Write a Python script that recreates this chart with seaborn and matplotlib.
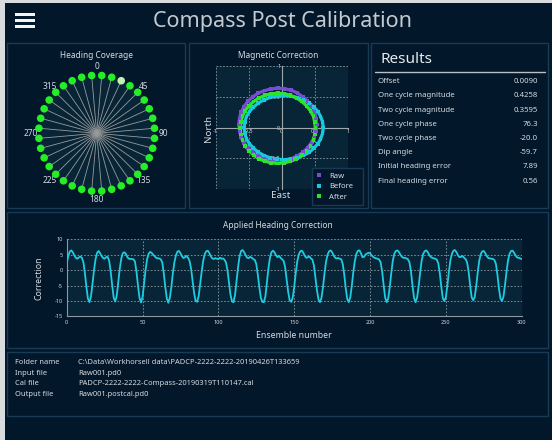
import numpy as np
import pandas as pd
import matplotlib
matplotlib.use("Agg")
import matplotlib.pyplot as plt
from matplotlib.patches import Rectangle
from matplotlib.lines import Line2D
import seaborn as sns

# ---------------- data ----------------
heading_angles = [5, 15, 25, 35, 45, 55, 65, 75, 85, 95, 105, 115, 125, 135, 145, 155, 165, 175,
                  185, 195, 205, 215, 225, 235, 245, 255, 265, 275, 285, 295, 305, 315, 325, 335, 345, 355]
heading_status = ["full", "full", "partial"] + ["full"] * 33
heading_tick_angles = [0, 45, 90, 135, 180, 225, 270, 315]

raw_x = [0.53, 0.52, 0.50, 0.45, 0.39, 0.32, 0.24, 0.14, 0.04, -0.06, -0.16, -0.26, -0.355, -0.44, -0.51, -0.57,
         -0.615, -0.64, -0.65, -0.64, -0.615, -0.57, -0.51, -0.44, -0.355, -0.26, -0.16, -0.06, 0.04, 0.14,
         0.235, 0.32, 0.39, 0.45, 0.495, 0.52]
raw_y = [0.05, 0.15, 0.25, 0.35, 0.43, 0.50, 0.56, 0.61, 0.63, 0.64, 0.63, 0.60, 0.56, 0.50, 0.43, 0.345,
         0.25, 0.15, 0.05, -0.05, -0.15, -0.245, -0.33, -0.40, -0.46, -0.505, -0.53, -0.54, -0.53, -0.505,
         -0.46, -0.40, -0.33, -0.245, -0.15, -0.05]
before_x = [0.63, 0.62, 0.59, 0.55, 0.49, 0.42, 0.33, 0.235, 0.135, 0.03, -0.075, -0.175, -0.27, -0.355, -0.43,
            -0.49, -0.535, -0.56, -0.57, -0.56, -0.535, -0.49, -0.43, -0.355, -0.27, -0.175, -0.075, 0.03,
            0.135, 0.235, 0.33, 0.42, 0.49, 0.55, 0.59, 0.62]
before_y = [0.0, 0.09, 0.18, 0.26, 0.33, 0.40, 0.45, 0.49, 0.51, 0.52, 0.51, 0.49, 0.45, 0.40, 0.33, 0.26,
            0.18, 0.09, 0.0, -0.09, -0.18, -0.26, -0.33, -0.40, -0.45, -0.49, -0.51, -0.52, -0.51, -0.49,
            -0.45, -0.40, -0.33, -0.26, -0.18, -0.09]
after_x = [0.51, 0.50, 0.48, 0.435, 0.375, 0.305, 0.225, 0.135, 0.04, -0.06, -0.16, -0.255, -0.345, -0.425,
           -0.495, -0.555, -0.595, -0.62, -0.63, -0.62, -0.595, -0.555, -0.495, -0.425, -0.345, -0.255, -0.16,
           -0.06, 0.04, 0.135, 0.225, 0.305, 0.375, 0.435, 0.48, 0.50]
after_y = [-0.01, 0.09, 0.185, 0.275, 0.355, 0.425, 0.48, 0.525, 0.55, 0.56, 0.55, 0.525, 0.48, 0.425, 0.355,
           0.275, 0.185, 0.09, -0.01, -0.11, -0.205, -0.295, -0.375, -0.445, -0.505, -0.545, -0.57, -0.58,
           -0.57, -0.545, -0.505, -0.445, -0.375, -0.295, -0.205, -0.11]
mag_ticks = [-1, -0.5, 0, 0.5, 1]

correction = [
    2.2, 4.5, 6.0, 6.4, 5.8, 4.8, 4.0, 3.7, 4.1, 4.4, 4.0, 2.6, -1.0, -5.5, -9.3, -10.4,
    -8.6, -4.5, 0.0, 3.5, 5.6, 6.2, 5.5, 4.6, 3.9, 3.7, 4.2, 4.3, 3.0, -0.5, -5.0, -9.0, -10.2,
    -8.3, -4.0, 0.5, 3.8, 5.5, 5.8, 5.3, 4.2, 3.7, 3.6, 3.6, 3.5, 2.8, -0.5, -5.0, -9.0, -10.5,
    -8.8, -4.5, 0.0, 3.5, 5.3, 5.9, 5.6, 5.0, 4.5, 4.0, 3.8, 3.8, 3.5, 2.5, -1.0, -5.5, -9.2, -10.6,
    -9.0, -5.5, -1.0, 2.5, 4.8, 6.0, 6.2, 5.5, 4.5, 3.9, 4.2, 4.6, 4.0, 3.0, 0.5, -3.5, -7.5, -10.0, -10.3,
    -8.5, -4.5, -0.5, 3.0, 5.2, 6.1, 6.3, 5.6, 4.5, 3.8, 3.6, 3.9, 3.7, 3.6, 4.0, 3.7, 3.8, 3.4, 2.5, 0.0,
    -4.0, -8.0, -10.2, -10.4,
    -8.0, -3.5, 1.0, 4.5, 6.2, 6.5, 5.8, 4.8, 4.0, 3.9, 4.3, 4.0, 3.6, 3.3, 2.0, -1.5, -5.5, -9.0, -10.3, -10.4,
    -8.5, -4.0, 0.5, 4.0, 5.8, 6.3, 5.8, 4.8, 4.2, 4.6, 4.0, 3.5, 3.0, 1.0, -3.0, -7.0, -9.8, -10.3,
    -9.0, -5.5, -1.0, 2.8, 5.0, 6.1, 6.3, 5.6, 4.6, 4.0, 4.2, 4.4, 3.8, 3.4, 1.5, -2.5, -6.5, -9.5, -10.4,
    -9.0, -5.5, -1.0, 2.8, 5.0, 6.1, 6.4, 5.8, 4.8, 4.0, 3.8, 3.9, 3.7, 3.5, 2.0, -1.5, -6.0, -9.4, -10.4,
    -8.8, -5.0, -0.5, 3.0, 5.3, 6.3, 6.4, 5.5, 4.2, 4.3, 5.0, 5.4, 5.6, 5.5, 4.8, 4.3, 4.0, 3.8, 3.7, 3.4,
    2.5, -0.5, -5.0, -9.0, -10.4,
    -9.2, -5.5, -1.0, 3.0, 5.3, 6.2, 6.4, 5.9, 5.0, 4.3, 4.0, 4.0, 3.8, 3.5, 2.5, -0.5, -5.0, -9.0, -10.4,
    -9.0, -5.5, -1.0, 3.0, 5.2, 6.1, 6.4, 5.9, 4.9, 4.3, 4.0, 3.8, 3.7, 3.4, 2.2, -1.0, -5.5, -9.2, -10.0,
    -8.8, -5.0, -0.5, 3.2, 5.3, 6.3, 6.5, 5.8, 4.8, 4.2, 4.3, 4.6, 4.0, 3.6, 2.5, -0.5, -5.0, -8.8, -9.8,
    -8.8, -5.2, -0.8, 3.0, 5.2, 6.1, 6.2, 5.5, 4.5, 3.9, 3.8, 3.7, 3.6, 3.3, 2.0, -1.5, -6.0, -9.3, -10.0,
    -8.6, -4.8, -0.5, 3.2, 5.3, 6.2, 6.3, 5.6, 4.7, 4.1, 4.0, 3.8, 3.6,
]
ensemble = list(range(len(correction)))
corr_xticks = [0, 50, 100, 150, 200, 250, 300]
corr_yticks = [-15, -10, -5, 0, 5, 10]

result_labels = ["Offset", "One cycle magnitude", "Two cycle magnitude", "One cycle phase",
                 "Two cycle phase", "Dip angle", "Initial heading error", "Final heading error"]
result_values = ["0.0090", "0.4258", "0.3595", "76.3", "-20.0", "-59.7", "7.89", "0.56"]

file_labels = ["Folder name", "Input file", "Cal file", "Output file"]
file_values = ["C:\\Data\\Workhorsell data\\PADCP-2222-2222-20190426T133659", "Raw001.pd0",
               "PADCP-2222-2222-Compass-20190319T110147.cal", "Raw001.postcal.pd0"]

# ---------------- style ----------------
BG = "#02172a"
PANEL_EDGE = "#173a55"
AX_BG = "#072536"
TXT = "#d5dbe0"
GRID = "#8d9aa3"

sns.set_theme(style="dark")
plt.rcParams["font.family"] = ["Noto Sans", "DejaVu Sans"]
plt.rcParams["axes.unicode_minus"] = False

W, H = 552, 440
fig = plt.figure(figsize=(W / 100, H / 100), dpi=100, facecolor=BG)


def fx(x):
    return x / W


def fy(y):
    return 1 - y / H


def rect_px(x0, y0, x1, y1):
    return [fx(x0), fy(y1), (x1 - x0) / W, (y1 - y0) / H]


def box(x0, y0, x1, y1, **kw):
    fig.patches.append(Rectangle((fx(x0), fy(y1)), (x1 - x0) / W, (y1 - y0) / H,
                                 transform=fig.transFigure, **kw))


def panel(x0, y0, x1, y1):
    box(x0, y0, x1, y1, facecolor="none", edgecolor=PANEL_EDGE, lw=1.0)


# window frame (light margin at left and top)
box(0, 0, 5, 440, facecolor="#d9dcdf", edgecolor="none")
box(0, 0, 552, 3, facecolor="#d9dcdf", edgecolor="none")

# header
fig.text(fx(282.5), fy(22), "Compass Post Calibration", ha="center", va="center",
         fontsize=15.5, color="#c3cad1")
for yb in [14.5, 20.5, 26.5]:
    box(15, yb - 1.2, 34.5, yb + 1.2, facecolor="#f2f4f6", edgecolor="none")

panel(7, 43, 185, 208)
panel(189, 43, 368, 208)
panel(371, 43, 548, 208)
panel(7, 212, 548, 348)
panel(7, 352, 548, 416)

# ---------------- heading coverage ----------------
axp = fig.add_axes(rect_px(38.7, 75.3, 154.7, 191.3), projection="polar")
axp.set_facecolor(AX_BG)
axp.set_theta_zero_location("N")
axp.set_theta_direction(-1)
hdf = pd.DataFrame({"theta": np.deg2rad(heading_angles), "r": 1.0, "status": heading_status})
axp.vlines(hdf["theta"], 0, hdf["r"], color="#9a9a9a", lw=0.6, zorder=1)
sns.scatterplot(data=hdf, x="theta", y="r", hue="status",
                palette={"full": "#26ee26", "partial": "#bdf3b0"}, s=30, edgecolor="none",
                legend=False, ax=axp, clip_on=False, zorder=3)
axp.set_ylim(0, 1)
axp.set_yticks([])
axp.set_xticks(np.deg2rad(heading_tick_angles))
axp.set_xticklabels([str(a) for a in heading_tick_angles])
axp.tick_params(axis="x", colors=TXT, labelsize=6, pad=-7)
axp.grid(False)
axp.spines["polar"].set_visible(False)
axp.set_xlabel("")
axp.set_ylabel("")
fig.text(fx(96.5), fy(55.5), "Heading Coverage", ha="center", va="center", fontsize=6, color=TXT)

# ---------------- magnetic correction ----------------
axm = fig.add_axes(rect_px(215.7, 66, 347.7, 189.3))
axm.set_facecolor(AX_BG)
mdf = pd.concat([
    pd.DataFrame({"x": raw_x, "y": raw_y, "series": "Raw"}),
    pd.DataFrame({"x": before_x, "y": before_y, "series": "Before"}),
    pd.DataFrame({"x": after_x, "y": after_y, "series": "After"}),
], ignore_index=True)
pal = {"Raw": "#7a4cd6", "Before": "#18c8dc", "After": "#2ae62a"}
closed = pd.concat([g.iloc[list(range(len(g))) + [0]] for _, g in mdf.groupby("series", sort=False)],
                   ignore_index=True)
sns.lineplot(data=closed, x="x", y="y", hue="series", palette=pal, sort=False, estimator=None,
             lw=2.3, legend=False, ax=axm, zorder=3)
sns.scatterplot(data=mdf, x="x", y="y", hue="series", palette=pal, marker="s", s=7,
                edgecolor="none", ax=axm, zorder=4)
axm.set_xlim(-1, 1)
axm.set_ylim(-1, 1)
axm.set_xticks(mag_ticks)
axm.set_yticks(mag_ticks)
axm.set_xticklabels([f"{t:g}" for t in mag_ticks])
axm.set_yticklabels([f"{t:g}" for t in mag_ticks])
axm.grid(True, color=GRID, ls=(0, (2, 2)), lw=0.6)
for s in ["top", "right"]:
    axm.spines[s].set_visible(False)
axm.spines["left"].set_position("zero")
axm.spines["bottom"].set_position("zero")
axm.spines["left"].set_color("#a0a8ae")
axm.spines["bottom"].set_color("#a0a8ae")
axm.spines["left"].set_lw(0.8)
axm.spines["bottom"].set_lw(0.8)
axm.tick_params(length=0, labelsize=4, colors=TXT, pad=1)
axm.set_xlabel("")
axm.set_ylabel("")
fig.text(fx(281), fy(195.5), "East", ha="center", va="center", fontsize=7, color=TXT)
fig.text(fx(208), fy(128), "North", ha="center", va="center", fontsize=7, color=TXT, rotation=90)
fig.text(fx(278), fy(55.5), "Magnetic Correction", ha="center", va="center", fontsize=6, color=TXT)
leg = axm.legend(loc="upper left", bbox_to_anchor=(0.727, -0.114, 0.39, 0.284), mode="expand",
                 fontsize=5.5, frameon=True, borderpad=0.5, labelspacing=0.45, handletextpad=0.8,
                 handlelength=1.0, markerscale=0.9, borderaxespad=0)
leg.get_frame().set_facecolor(BG)
leg.get_frame().set_edgecolor(PANEL_EDGE)
leg.get_frame().set_alpha(1)
leg.get_frame().set_boxstyle("square", pad=0)
leg.set_zorder(10)
for t in leg.get_texts():
    t.set_color(TXT)

# ---------------- results ----------------
fig.text(fx(380), fy(59.5), "Results", ha="left", va="center", fontsize=11, color="#e6eaee")
fig.add_artist(Line2D([fx(375), fx(545)], [fy(72), fy(72)], color="#b8c0c6", lw=1.0))
for i, (lab, val) in enumerate(zip(result_labels, result_values)):
    yy = 81.7 + i * 14.2
    fig.text(fx(377.5), fy(yy), lab, ha="left", va="center", fontsize=5.6, color=TXT)
    fig.text(fx(538), fy(yy), val, ha="right", va="center", fontsize=5.6, color=TXT)

# ---------------- applied heading correction ----------------
axl = fig.add_axes(rect_px(66.7, 239.3, 521.7, 316.3))
axl.set_facecolor(AX_BG)
sns.lineplot(x=ensemble, y=correction, color="#1ecbe0", lw=1.3, ax=axl, zorder=3)
axl.set_xlim(0, 300)
axl.set_ylim(-15, 10)
axl.set_xticks(corr_xticks)
axl.set_yticks(corr_yticks)
axl.grid(True, color=GRID, ls=(0, (2, 2)), lw=0.6)
for s in ["top", "right"]:
    axl.spines[s].set_visible(False)
for s in ["left", "bottom"]:
    axl.spines[s].set_color("#8d979e")
    axl.spines[s].set_lw(0.8)
axl.tick_params(length=0, labelsize=4, colors=TXT, pad=3)
axl.set_xlabel("Ensemble number", fontsize=6.3, color=TXT, labelpad=4)
axl.set_ylabel("Correction", fontsize=6.3, color=TXT, labelpad=8)
fig.text(fx(278), fy(225), "Applied Heading Correction", ha="center", va="center", fontsize=6, color=TXT)

# ---------------- file info ----------------
for i, (lab, val) in enumerate(zip(file_labels, file_values)):
    yy = 362.6 + i * 10.6
    fig.text(fx(14.8), fy(yy), lab, ha="left", va="center", fontsize=5.4, color=TXT)
    fig.text(fx(78), fy(yy), val, ha="left", va="center", fontsize=5.4, color=TXT)

fig.savefig("out.png", dpi=100, facecolor=BG)
